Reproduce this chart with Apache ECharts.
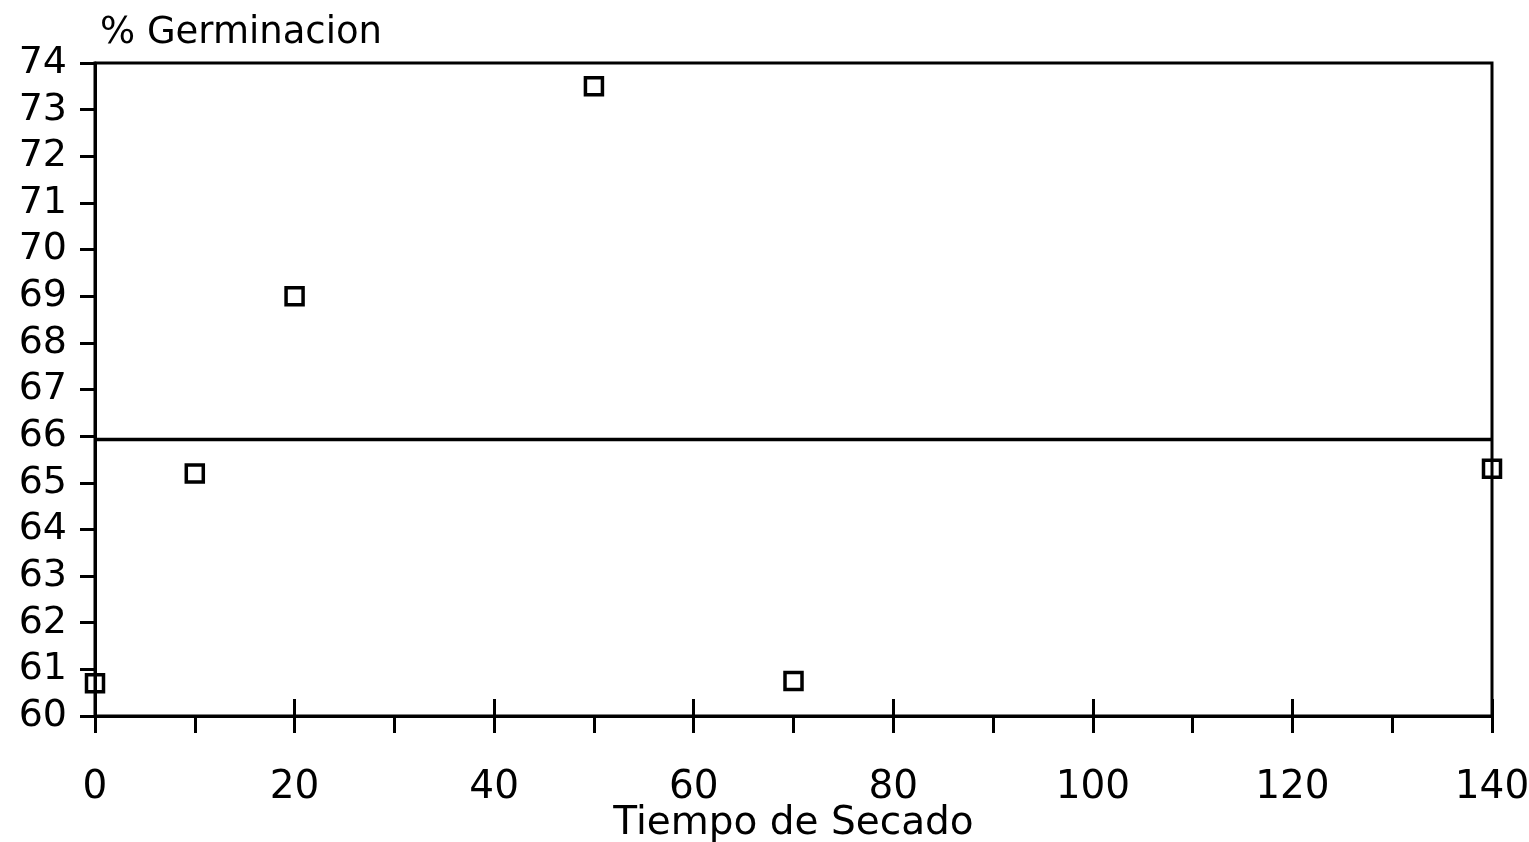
<!DOCTYPE html>
<html>
<head>
<meta charset="utf-8">
<script src="https://cdn.jsdelivr.net/npm/echarts@6/dist/echarts.min.js"></script>
<style>html,body{margin:0;padding:0;background:#fff}#c{width:1529px;height:842px}</style>
</head>
<body>
<div id="c"></div>
<script>
var xValues = [0, 10, 20, 50, 70, 140];
var germinacion = [60.7, 65.2, 69.0, 73.5, 60.75, 65.3];
var lineX = [0, 140];
var lineY = [65.93, 65.93];
var yTitle = '% Germinacion';
var xTitle = 'Tiempo de Secado';

var FONT = 'DejaVu Sans';
var chart = echarts.init(document.getElementById('c'));
chart.setOption({
  animation: false,
  backgroundColor: '#fff',
  title: {
    text: yTitle, left: 95, top: 10,
    textStyle: {fontFamily: FONT, fontSize: 37, fontWeight: 'normal', color: '#000'}
  },
  grid: {left: 95, right: 37, top: 63, bottom: 126, outerBoundsMode: 'none', containLabel: false,
    show: true, borderColor: '#000', borderWidth: 3, backgroundColor: 'transparent'},
  xAxis: [{
    type: 'value', min: 0, max: 140, interval: 10,
    name: xTitle, nameLocation: 'middle', nameGap: 88, nameMoveOverlap: false,
    nameTextStyle: {fontFamily: FONT, fontSize: 39, color: '#000'},
    axisLine: {show: true, lineStyle: {color: '#000', width: 3}},
    axisTick: {show: true, length: 17, lineStyle: {color: '#000', width: 3}},
    axisLabel: {
      margin: 52, fontFamily: FONT, fontSize: 39, color: '#000',
      formatter: function (v) { return v % 20 === 0 ? String(v) : ''; }
    },
    splitLine: {show: false}
  }, {
    type: 'value', min: 0, max: 140, interval: 20, position: 'bottom',
    axisLine: {show: false},
    axisTick: {show: true, inside: true, length: 17, lineStyle: {color: '#000', width: 3}},
    axisLabel: {show: false},
    splitLine: {show: false}
  }],
  yAxis: {
    type: 'value', min: 60, max: 74, interval: 1,
    axisLine: {show: true, lineStyle: {color: '#000', width: 3}},
    axisTick: {show: true, length: 15, lineStyle: {color: '#000', width: 3}},
    axisLabel: {margin: 28, fontFamily: FONT, fontSize: 38, color: '#000'},
    splitLine: {show: false}
  },
  series: [{
    type: 'line',
    data: lineX.map(function (x, i) { return [x, lineY[i]]; }),
    symbol: 'none',
    lineStyle: {color: '#000', width: 3.5},
    z: 3
  }, {
    type: 'scatter',
    data: xValues.map(function (x, i) { return [x, germinacion[i]]; }),
    symbol: 'rect', symbolSize: 17,
    itemStyle: {color: 'transparent', borderColor: '#000', borderWidth: 3.5, opacity: 1},
    clip: false,
    z: 4
  }]
});
</script>
</body>
</html>
